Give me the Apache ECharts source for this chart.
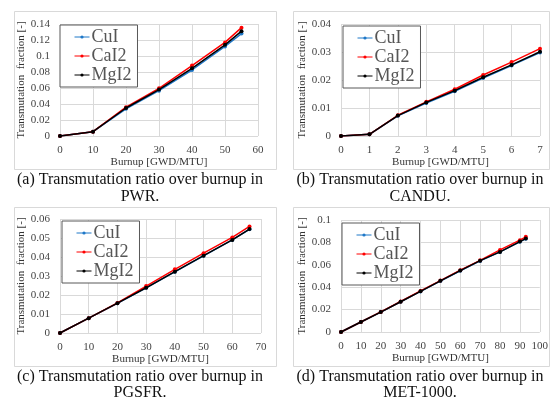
<!DOCTYPE html>
<html>
<head>
<meta charset="utf-8">
<script src="https://cdn.jsdelivr.net/npm/echarts@6/dist/echarts.min.js"></script>
<style>
    html, body { margin: 0; padding: 0; background: #fff; }
    #main { width: 551px; height: 401px; }
</style>
</head>
<body>
<div id="main"></div>
<script>
// (a) PWR
var pwrBurnup = [0, 10, 20, 30, 40, 50, 55];
var pwrCuI = [0, 0.0054, 0.034, 0.0567, 0.0825, 0.112, 0.128];
var pwrCaI2 = [0, 0.0054, 0.036, 0.0596, 0.088, 0.117, 0.1354];
var pwrMgI2 = [0, 0.0054, 0.035, 0.058, 0.0846, 0.114, 0.131];
// (b) CANDU
var canduBurnup = [0, 1, 2, 3, 4, 5, 6, 7];
var canduCuI = [0, 0.0006, 0.0072, 0.0118, 0.016, 0.0207, 0.0252, 0.0298];
var canduCaI2 = [0, 0.0006, 0.0074, 0.0122, 0.0167, 0.0218, 0.0264, 0.0312];
var canduMgI2 = [0, 0.0006, 0.0073, 0.012, 0.0162, 0.021, 0.0254, 0.0301];
// (c) PGSFR
var pgsfrBurnup = [0, 10, 20, 30, 40, 50, 60, 66];
var pgsfrCuI = [0, 0.0078, 0.0156, 0.0238, 0.0322, 0.0406, 0.049, 0.0546];
var pgsfrCaI2 = [0, 0.0078, 0.0158, 0.0247, 0.0335, 0.042, 0.0503, 0.0561];
var pgsfrMgI2 = [0, 0.0078, 0.0157, 0.0238, 0.0323, 0.0407, 0.049, 0.0547];
// (d) MET-1000
var metBurnup = [0, 10, 20, 30, 40, 50, 60, 70, 80, 90, 93];
var metCuI = [0, 0.0089, 0.0178, 0.027, 0.0362, 0.0455, 0.0547, 0.0635, 0.0715, 0.0805, 0.0833];
var metCaI2 = [0, 0.0089, 0.0179, 0.0272, 0.0367, 0.0459, 0.0552, 0.064, 0.0733, 0.082, 0.085];
var metMgI2 = [0, 0.0089, 0.0178, 0.027, 0.0363, 0.0457, 0.0548, 0.0637, 0.0715, 0.0807, 0.0834];

var seriesNames = ['CuI', 'CaI2', 'MgI2'];
var seriesColors = ['#1f78c8', '#ff0000', '#000000'];

// panel axis setup
var xMax = [60, 7, 70, 100];
var xStep = [10, 1, 10, 10];
var yMax = [0.14, 0.04, 0.06, 0.1];
var yStep = [0.02, 0.01, 0.01, 0.02];
var captions = [
    ['(a) Transmutation ratio over burnup in', 'PWR.'],
    ['(b) Transmutation ratio over burnup in', 'CANDU.'],
    ['(c) Transmutation ratio over burnup in', 'PGSFR.'],
    ['(d) Transmutation ratio over burnup in', 'MET-1000.']
];

var panels = [
    { x: pwrBurnup, y: [pwrCuI, pwrCaI2, pwrMgI2] },
    { x: canduBurnup, y: [canduCuI, canduCaI2, canduMgI2] },
    { x: pgsfrBurnup, y: [pgsfrCuI, pgsfrCaI2, pgsfrMgI2] },
    { x: metBurnup, y: [metCuI, metCaI2, metMgI2] }
];

var gridBox = [
    { left: 60, top: 24, width: 198, height: 112 },
    { left: 341, top: 24, width: 199, height: 112 },
    { left: 60, top: 219, width: 201, height: 114 },
    { left: 341, top: 220, width: 201, height: 112 }
];
var legendPos = [
    { left: 60, top: 25 },
    { left: 343, top: 26 },
    { left: 62, top: 221 },
    { left: 342, top: 223 }
];
var frames = [
    { x: 14, y: 11, w: 262, h: 158 },
    { x: 293, y: 11, w: 256, h: 158 },
    { x: 14, y: 207, w: 262, h: 159 },
    { x: 293, y: 207, w: 256, h: 159 }
];
var captionY = [[180, 197], [180, 197], [377, 393], [377, 393]];
var captionX = [140, 420, 140, 420];

var serif = '"Liberation Serif", "Times New Roman", serif';
var gridColor = '#d9d9d9';

var myChart = echarts.init(document.getElementById('main'));
var option = {
    backgroundColor: '#fff',
    animation: false,
    grid: [],
    xAxis: [],
    yAxis: [],
    legend: [],
    series: [],
    graphic: []
};

for (var p = 0; p < 4; p++) {
    option.grid.push(gridBox[p]);
    option.xAxis.push({
        type: 'value',
        gridIndex: p,
        min: 0,
        max: xMax[p],
        interval: xStep[p],
        name: 'Burnup [GWD/MTU]',
        nameLocation: 'middle',
        nameGap: 21,
        nameTextStyle: { fontFamily: serif, fontSize: 11, color: '#333' },
        axisLine: { show: false },
        axisTick: { show: false },
        axisLabel: { fontFamily: serif, fontSize: 11, color: '#444', margin: 9 },
        splitLine: { show: true, lineStyle: { color: gridColor, width: 1 } }
    });
    option.yAxis.push({
        type: 'value',
        gridIndex: p,
        min: 0,
        max: yMax[p],
        interval: yStep[p],
        name: 'Transmutation  fraction [-]',
        nameLocation: 'middle',
        nameGap: 33,
        nameTextStyle: { fontFamily: serif, fontSize: 11, color: '#333' },
        axisLine: { show: false },
        axisTick: { show: false },
        axisLabel: { fontFamily: serif, fontSize: 11, color: '#444', margin: 10 },
        splitLine: { show: true, lineStyle: { color: gridColor, width: 1 } }
    });
    option.legend.push({
        left: legendPos[p].left,
        top: legendPos[p].top,
        orient: 'vertical',
        data: seriesNames,
        backgroundColor: '#fff',
        borderColor: '#595959',
        borderWidth: 1,
        borderRadius: 0,
        padding: [3, 6, 3, 14],
        itemGap: 1,
        itemWidth: 15,
        itemHeight: 4,
        lineStyle: { width: 1 },
        textStyle: { fontFamily: serif, fontSize: 18, color: '#555', lineHeight: 18, padding: [0, 0, 0, -3] }
    });
    for (var s = 0; s < 3; s++) {
        var pts = [];
        for (var i = 0; i < panels[p].x.length; i++) {
            pts.push([panels[p].x[i], panels[p].y[s][i]]);
        }
        option.series.push({
            name: seriesNames[s],
            type: 'line',
            xAxisIndex: p,
            yAxisIndex: p,
            data: pts,
            symbol: 'circle',
            symbolSize: 4,
            showSymbol: true,
            z: 3 + s,
            itemStyle: { color: seriesColors[s] },
            lineStyle: { color: seriesColors[s], width: 1.5 }
        });
    }
    option.graphic.push({
        type: 'rect',
        silent: true,
        z: -10,
        shape: { x: frames[p].x + 0.5, y: frames[p].y + 0.5, width: frames[p].w, height: frames[p].h },
        style: { fill: 'none', stroke: gridColor, lineWidth: 1 }
    });
    for (var k = 0; k < 2; k++) {
        option.graphic.push({
            type: 'text',
            silent: true,
            x: captionX[p],
            y: captionY[p][k],
            style: {
                text: captions[p][k],
                font: '16px ' + serif,
                fill: '#111',
                align: 'center',
                verticalAlign: 'middle'
            }
        });
    }
}

myChart.setOption(option);
</script>
</body>
</html>
